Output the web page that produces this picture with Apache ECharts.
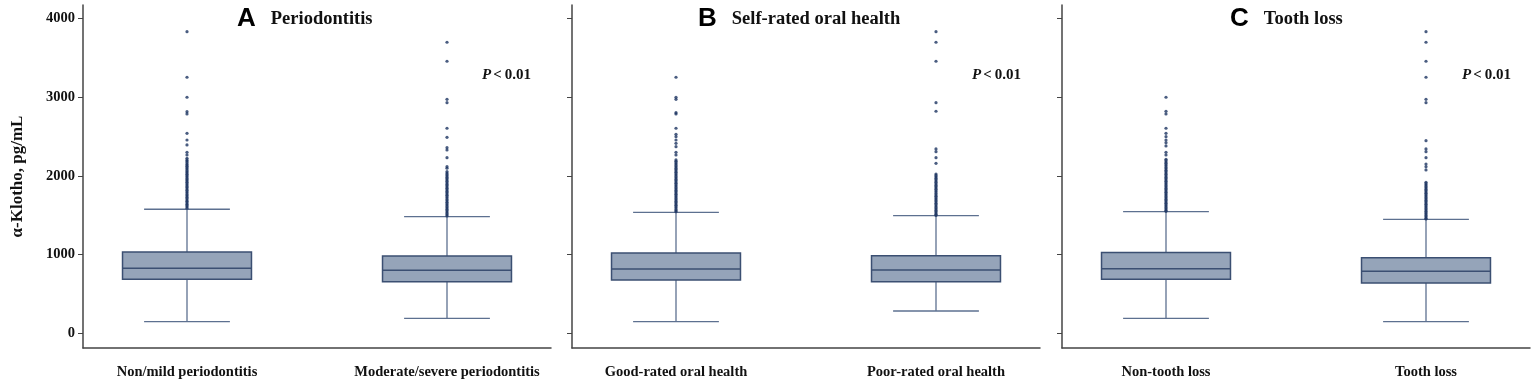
<!DOCTYPE html>
<html>
<head>
<meta charset="utf-8">
<script src="https://cdn.jsdelivr.net/npm/echarts@6/dist/echarts.min.js"></script>
<style>
  html, body { margin: 0; padding: 0; background: #fff; }
  #chart { width: 1535px; height: 385px; }
</style>
</head>
<body>
<div id="chart"></div>
<script>
// panels
const panelLetters = ['A', 'B', 'C']
const panelTitles = ['Periodontitis', 'Self-rated oral health', 'Tooth loss']
const categories = [
  ['Non/mild periodontitis', 'Moderate/severe periodontitis'],
  ['Good-rated oral health', 'Poor-rated oral health'],
  ['Non-tooth loss', 'Tooth loss']
]
const yTicks = [0, 1000, 2000, 3000, 4000]

// box stats: [lower whisker, Q1, median, Q3, upper whisker]
const boxA = [[148, 686, 826, 1033, 1576], [190, 656, 800, 982, 1482]]
const boxB = [[148, 677, 817, 1020, 1537], [283, 656, 804, 986, 1494]]
const boxC = [[190, 686, 821, 1025, 1545], [148, 639, 788, 961, 1448]]

// outliers
const outA1 = [3832, 3253, 2999, 2816, 2787, 2541, 2456, 2393, 2300, 2266, 2224, 2202, 2188, 2171, 2150, 2138, 2121, 2104, 2088, 2069, 2052, 2038, 2019, 2003, 1987, 1968, 1952, 1936, 1918, 1901, 1884, 1866, 1851, 1833, 1816, 1798, 1781, 1762, 1747, 1729, 1711, 1693, 1676, 1659, 1641, 1624, 1607, 1590]
const outA2 = [3698, 3456, 2973, 2930, 2605, 2490, 2358, 2329, 2231, 2117, 2097, 2054, 2036, 2018, 2001, 1983, 1966, 1948, 1931, 1912, 1895, 1877, 1860, 1842, 1824, 1806, 1789, 1771, 1754, 1736, 1718, 1700, 1683, 1665, 1647, 1630, 1612, 1594, 1577, 1559, 1541, 1523, 1506, 1490]
const outB1 = [3253, 2999, 2973, 2803, 2787, 2605, 2529, 2498, 2456, 2414, 2371, 2300, 2266, 2202, 2186, 2168, 2151, 2133, 2116, 2098, 2081, 2063, 2046, 2028, 2011, 1993, 1976, 1958, 1941, 1923, 1906, 1888, 1871, 1853, 1836, 1818, 1801, 1783, 1766, 1748, 1731, 1713, 1696, 1678, 1661, 1643, 1626, 1608, 1591, 1573, 1556, 1545]
const outB2 = [3832, 3698, 3456, 2930, 2821, 2342, 2307, 2231, 2160, 2024, 2006, 1988, 1971, 1953, 1935, 1918, 1900, 1882, 1864, 1847, 1829, 1811, 1794, 1776, 1758, 1741, 1723, 1705, 1688, 1670, 1652, 1635, 1617, 1599, 1582, 1564, 1546, 1529, 1511, 1498]
const outC1 = [2999, 2821, 2787, 2605, 2541, 2498, 2456, 2422, 2380, 2300, 2266, 2211, 2194, 2176, 2159, 2141, 2124, 2106, 2089, 2071, 2054, 2036, 2019, 2001, 1984, 1966, 1949, 1931, 1914, 1896, 1879, 1861, 1844, 1826, 1809, 1791, 1774, 1756, 1739, 1721, 1704, 1686, 1669, 1651, 1634, 1616, 1599, 1581, 1564, 1549]
const outC2 = [3832, 3698, 3456, 3253, 2973, 2930, 2447, 2342, 2307, 2231, 2151, 2117, 2075, 1918, 1901, 1883, 1866, 1848, 1831, 1813, 1796, 1778, 1761, 1743, 1726, 1708, 1691, 1673, 1656, 1638, 1621, 1603, 1586, 1568, 1551, 1533, 1516, 1498, 1481, 1463, 1452]

const boxes = [boxA, boxB, boxC]
const outliers = [[outA1, outA2], [outB1, outB2], [outC1, outC2]]

const BOX_W = 0.496
const CAP_W = 0.33
const boxFill = '#95a4b9'
const boxLine = '#3b4f72'
const whiskerLine = '#5d7090'
const dotColor = '#1d3461'
const serif = '"Liberation Serif", "Times New Roman", serif'

const gridLefts = [83, 572, 1062]

function renderBox(params, api) {
  const x = api.value(0)
  const low = api.coord([x, api.value(1)])
  const q1 = api.coord([x, api.value(2)])
  const med = api.coord([x, api.value(3)])
  const q3 = api.coord([x, api.value(4)])
  const high = api.coord([x, api.value(5)])
  const bh = api.size([BOX_W, 0])[0] / 2
  const ch = api.size([CAP_W, 0])[0] / 2
  const cx = low[0]
  const wStyle = { stroke: whiskerLine, lineWidth: 1.3 }
  return {
    type: 'group',
    children: [
      { type: 'line', shape: { x1: cx, y1: q3[1], x2: cx, y2: high[1] }, style: wStyle },
      { type: 'line', shape: { x1: cx, y1: q1[1], x2: cx, y2: low[1] }, style: wStyle },
      { type: 'line', shape: { x1: cx - ch, y1: high[1], x2: cx + ch, y2: high[1] }, style: wStyle },
      { type: 'line', shape: { x1: cx - ch, y1: low[1], x2: cx + ch, y2: low[1] }, style: wStyle },
      {
        type: 'rect',
        shape: { x: cx - bh, y: q3[1], width: bh * 2, height: q1[1] - q3[1] },
        style: { fill: boxFill, stroke: boxLine, lineWidth: 1.5 }
      },
      { type: 'line', shape: { x1: cx - bh, y1: med[1], x2: cx + bh, y2: med[1] }, style: { stroke: boxLine, lineWidth: 1.5 } }
    ]
  }
}

const grid = []
const xAxis = []
const yAxis = []
const series = []
const title = []

panelLetters.forEach((letter, i) => {
  grid.push({ left: gridLefts[i], top: 5, width: 468, height: 343 })
  xAxis.push({
    type: 'value',
    gridIndex: i,
    min: 0.6,
    max: 2.4,
    splitLine: { show: false },
    axisTick: { show: false },
    axisLine: { onZero: false, lineStyle: { color: '#444', width: 1.5 } },
    axisLabel: {
      customValues: [1, 2],
      formatter: v => categories[i][Math.round(v) - 1],
      margin: 17,
      color: '#111',
      fontFamily: serif,
      fontWeight: 'bold',
      fontSize: 14.5
    }
  })
  yAxis.push({
    type: 'value',
    gridIndex: i,
    min: -187,
    max: 4171,
    name: i === 0 ? 'α-Klotho, pg/mL' : '',
    nameLocation: 'middle',
    nameGap: 57,
    nameTextStyle: { fontFamily: serif, fontWeight: 'bold', fontSize: 17, color: '#111' },
    splitLine: { show: false },
    axisLine: { show: true, onZero: false, lineStyle: { color: '#444', width: 1.5 } },
    axisTick: { show: true, customValues: yTicks, length: 5, lineStyle: { color: '#444' } },
    axisLabel: {
      show: i === 0,
      customValues: yTicks,
      formatter: v => String(v),
      margin: 8,
      color: '#111',
      fontFamily: serif,
      fontWeight: 'bold',
      fontSize: 14.5
    }
  })
  series.push({
    type: 'custom',
    xAxisIndex: i,
    yAxisIndex: i,
    renderItem: renderBox,
    encode: { x: 0, y: [1, 2, 3, 4, 5] },
    data: boxes[i].map((b, k) => [k + 1].concat(b)),
    z: 2
  })
  outliers[i].forEach((vals, k) => {
    series.push({
      type: 'scatter',
      xAxisIndex: i,
      yAxisIndex: i,
      symbol: 'circle',
      symbolSize: 3.2,
      itemStyle: { color: dotColor },
      data: vals.map(v => [k + 1, v]),
      z: 3
    })
  })
})

const titleLefts = [237, 698, 1230]
const pLefts = [482, 972, 1462]
panelLetters.forEach((letter, i) => {
  title.push({
    text: '{a|' + letter + '}{b|' + panelTitles[i] + '}',
    left: titleLefts[i],
    top: 4,
    padding: 0,
    textStyle: {
      rich: {
        a: { fontFamily: '"Liberation Sans", Arial, sans-serif', fontWeight: 'bold', fontSize: 26, color: '#000', padding: [0, 15, 0, 0], lineHeight: 30 },
        b: { fontFamily: serif, fontWeight: 'bold', fontSize: 18.5, color: '#111', lineHeight: 30 }
      }
    }
  })
  title.push({
    text: '{p|P}{t|<}{n|0.01}',
    left: pLefts[i],
    top: 68,
    padding: 0,
    textStyle: {
      rich: {
        p: { fontFamily: serif, fontStyle: 'italic', fontSize: 15, color: '#111', padding: [0, 2, 0, 0] },
        t: { fontFamily: serif, fontSize: 15, color: '#111', padding: [0, 3, 0, 0] },
        n: { fontFamily: serif, fontWeight: 'bold', fontSize: 15, color: '#111' }
      }
    }
  })
})

const chart = echarts.init(document.getElementById('chart'))
chart.setOption({
  animation: false,
  backgroundColor: '#fff',
  title,
  grid,
  xAxis,
  yAxis,
  series
})
</script>
</body>
</html>
